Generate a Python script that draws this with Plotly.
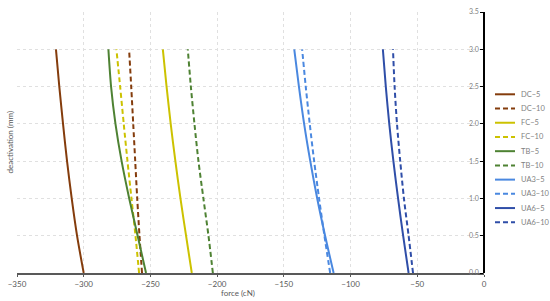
import plotly.graph_objects as go

deactivation = [0, 0.5, 1.0, 1.5, 2.0, 2.5, 3.0]

series_names = ["DC-5", "DC-10", "FC-5", "FC-10", "TB-5", "TB-10", "UA3-5", "UA3-10", "UA6-5", "UA6-10"]

dc_5 = [-300, -305, -309, -312.5, -315.5, -318.3, -320.8]
dc_10 = [-256.3, -258.2, -259.9, -261.4, -262.9, -264.4, -266]
fc_5 = [-219, -223.3, -227.5, -231.3, -234.8, -237.9, -240.7]
fc_10 = [-258.5, -261.2, -264.2, -267.2, -270, -272.7, -275.5]
tb_5 = [-253.3, -259.6, -265.9, -271.6, -276.2, -279.5, -281.5]
tb_10 = [-203.2, -206.5, -210.3, -214, -217, -219.7, -222]
ua3_5 = [-112.7, -119.1, -125.0, -130.2, -134.8, -138.7, -142.2]
ua3_10 = [-115.3, -119.6, -123.6, -127.3, -130.6, -133.6, -136.3]
ua6_5 = [-56.5, -60.6, -64.4, -67.9, -71.0, -73.6, -75.8]
ua6_10 = [-53.2, -56.5, -60, -62.8, -65.2, -67, -68.2]

series_values = [dc_5, dc_10, fc_5, fc_10, tb_5, tb_10, ua3_5, ua3_10, ua6_5, ua6_10]

x_tick_vals = [-350, -300, -250, -200, -150, -100, -50, 0]
y_tick_vals = [0, 0.5, 1.0, 1.5, 2.0, 2.5, 3.0, 3.5]
y_tick_text = ["0.0", "0.5", "1.0", "1.5", "2.0", "2.5", "3.0", "3.5"]

colors = {"DC": "#843C0C", "FC": "#CCC200", "TB": "#4E8233", "UA3": "#4A88E0", "UA6": "#2F4EA8"}
DASH = "5px,3px"

# plot area in pixels (for layout of the manual legend)
W, H = 550, 301
ML, MR, MT, MB = 17, 66, 12, 28
PW, PH = W - ML - MR, H - MT - MB


def px_x(p):
    return (p - ML) / PW


def px_y(p):
    return (H - MB - p) / PH


fig = go.Figure()
shapes = []
annotations = []
for i, (name, vals) in enumerate(zip(series_names, series_values)):
    group, dose = name.split("-")
    dash = "solid" if dose == "5" else DASH
    fig.add_trace(go.Scatter(
        x=vals, y=deactivation, mode="lines", name=name, showlegend=False,
        line=dict(color=colors[group], width=2, dash=dash, shape="spline", smoothing=0.8),
    ))
    ly = px_y(94.3 + i * 14.22)
    shapes.append(dict(type="line", xref="paper", yref="paper",
                       x0=px_x(495), x1=px_x(515), y0=ly, y1=ly,
                       line=dict(color=colors[group], width=2, dash=dash)))
    annotations.append(dict(text=name.replace("-", "\u2212"), xref="paper", yref="paper",
                            x=px_x(519), y=ly, xanchor="left", yanchor="middle",
                            showarrow=False, font=dict(size=7.5, color="#7f7f7f")))

annotations.append(dict(text="deactivation (mm)", xref="paper", yref="paper",
                        x=px_x(9), y=0.5, xanchor="center", yanchor="middle", textangle=-90,
                        showarrow=False, font=dict(size=8, color="#595959")))
annotations.append(dict(text="force (cN)", xref="paper", yref="paper",
                        x=px_x(238), y=px_y(293), xanchor="center", yanchor="middle",
                        showarrow=False, font=dict(size=8, color="#595959")))

font_fam = "Lato, 'Liberation Sans', sans-serif"
fig.update_layout(
    width=W, height=H,
    margin=dict(l=ML, r=MR, t=MT, b=MB, autoexpand=False),
    paper_bgcolor="white", plot_bgcolor="white",
    font=dict(family=font_fam, size=8, color="#595959"),
    showlegend=False,
    xaxis=dict(range=[-350, 0], tickvals=x_tick_vals, showgrid=True,
               gridcolor="#e0e0e0", griddash="dot", gridwidth=1,
               zeroline=False, showline=True, linecolor="#595959", linewidth=2,
               ticks="outside", ticklen=2, tickcolor="#595959",
               tickfont=dict(size=8, color="#595959"), automargin=False),
    yaxis=dict(range=[0, 3.5], tickvals=y_tick_vals, ticktext=y_tick_text,
               anchor="free", position=1.0, side="left", ticks="outside", ticklen=3,
               tickcolor="#000000",
               showgrid=True, gridcolor="#e0e0e0", griddash="dot", gridwidth=1,
               zeroline=False, showline=True, linecolor="#000000", linewidth=1.5,
               tickfont=dict(size=7, color="#7f7f7f"), automargin=False),
    shapes=shapes,
    annotations=annotations,
)

fig.write_html("out.html", config={"displayModeBar": False},
               post_script="document.body.style.margin='0';")
